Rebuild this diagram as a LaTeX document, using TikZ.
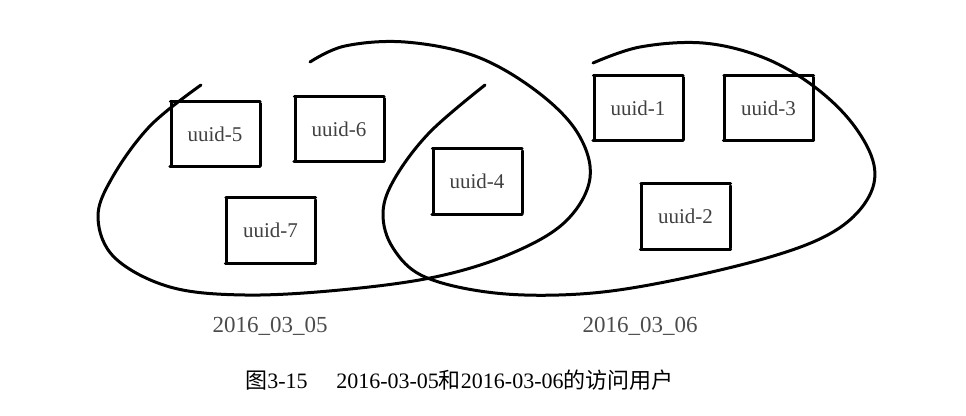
\documentclass[tikz,border=0pt]{standalone}
\usepackage{fontspec}
\setmainfont{Liberation Serif}
\newfontfamily\cjk{Noto Sans CJK SC}
\begin{document}
\begin{tikzpicture}[x=1pt,y=-1pt,
  idbox/.style={minimum width=87pt, minimum height=65pt, inner sep=0pt,
    font=\fontsize{21}{21}\selectfont, text=black!75},
  edge/.style={line width=3pt, line cap=round},
  setcurve/.style={line width=3pt, line cap=round, smooth, tension=0.6},
  setlabel/.style={font=\fontsize{23}{23}\selectfont, text=black!70},
  caption/.style={font=\fontsize{22}{22}\selectfont, text=black}]
\useasboundingbox (0,0) rectangle (966,415);
% boxes
\node[idbox] (u5) at (215,134) {uuid-5};
\node[idbox] (u6) at (339,129) {uuid-6};
\node[idbox] (u7) at (270.5,230.5) {uuid-7};
\node[idbox] (u4) at (477,181.5) {uuid-4};
\node[idbox] (u1) at (638,108) {uuid-1};
\node[idbox] (u3) at (768.5,108) {uuid-3};
\node[idbox] (u2) at (685.5,216.5) {uuid-2};
\foreach \n in {u1,u2,u3,u4,u5,u6,u7}{
  \draw[edge] ([xshift=-1pt]\n.north west) -- ([xshift=1.5pt]\n.north east);
  \draw[edge] ([xshift=1.5pt,yshift=-2pt]\n.north east) -- ([xshift=1.5pt,yshift=1pt]\n.south east);
  \draw[edge] ([xshift=-1.5pt]\n.south west) -- ([xshift=1.5pt]\n.south east);
  \draw[edge] (\n.north west) -- ([yshift=1pt]\n.south west);
}
% left set
\draw[setcurve] plot coordinates {(201,85) (150,126) (112,178) (98,218) (115,258) (170,287) (245,295) (340,290) (435,277) (510,254) (565,222) (590,178) (577,132) (535,90) (475,56) (405,42) (345,46) (310,62)};
% right set
\draw[setcurve] plot coordinates {(485,85) (430,132) (395,178) (383,213) (393,248) (425,277) (495,293) (580,294) (665,282) (770,257) (833,232) (867,200) (874,165) (852,123) (812,85) (762,57) (703,43) (640,47) (593,63)};
% labels
\node[setlabel] (l1) at (270,326) {2016\_03\_05};
\node[setlabel] (l2) at (640,326) {2016\_03\_06};
\node[caption] (cap) at (459.5,380) {{\cjk 图}3-15\hspace{1.3em}2016-03-05{\cjk 和}2016-03-06{\cjk 的访问用户}};
\end{tikzpicture}
\end{document}
